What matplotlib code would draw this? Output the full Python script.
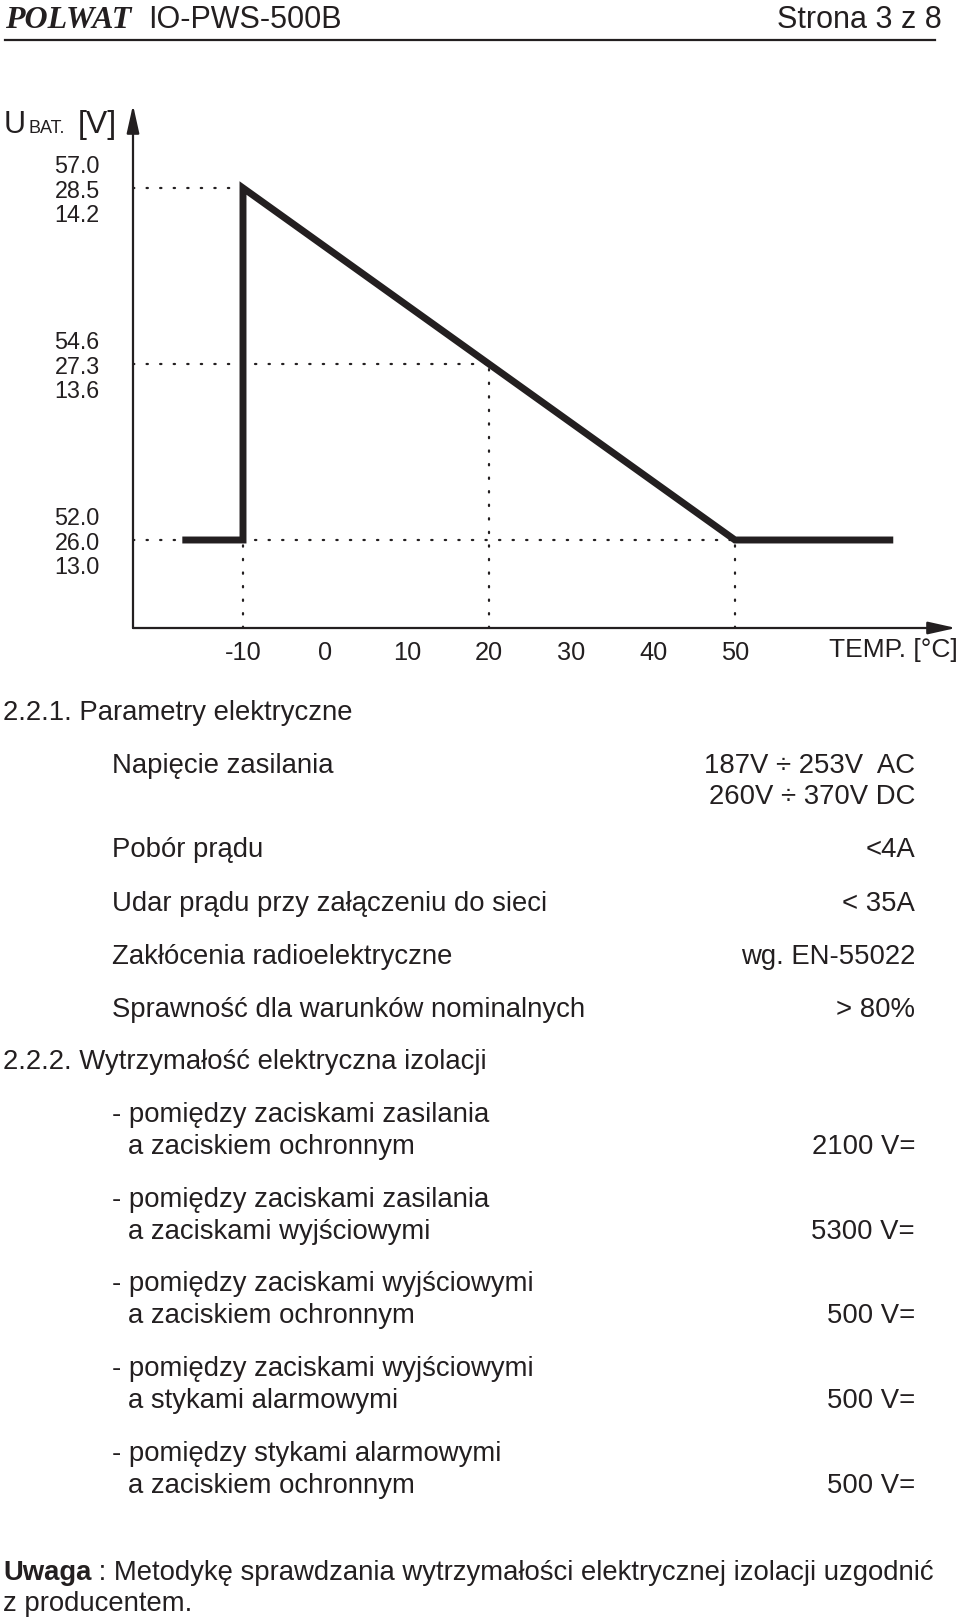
import numpy as np
import matplotlib
matplotlib.use("Agg")
import matplotlib.pyplot as plt

# ---------------- data ----------------
curve_temp = [-17.4, -10.0, -10.0, 50.0, 69.3]
curve_u = [26.0, 26.0, 28.5, 26.0, 26.0]
guide_temps = [-10, 20, 50]
x_ticks = [-10, 0, 10, 20, 30, 40, 50]
y_label_groups = [["52.0", "26.0", "13.0"], ["54.6", "27.3", "13.6"], ["57.0", "28.5", "14.2"]]
x_label = "TEMP. [°C]"

params_left = ["Napięcie zasilania", "Pobór prądu", "Udar prądu przy załączeniu do sieci",
               "Zakłócenia radioelektryczne", "Sprawność dla warunków nominalnych"]
params_right = [["187V ÷ 253V  AC", "260V ÷ 370V DC"], ["<4A"], ["< 35A"], ["wg. EN-55022"], ["> 80%"]]
iso_line1 = ["- pomiędzy zaciskami zasilania", "- pomiędzy zaciskami zasilania",
             "- pomiędzy zaciskami wyjściowymi", "- pomiędzy zaciskami wyjściowymi",
             "- pomiędzy stykami alarmowymi"]
iso_line2 = ["a zaciskiem ochronnym", "a zaciskami wyjściowymi", "a zaciskiem ochronnym",
             "a stykami alarmowymi", "a zaciskiem ochronnym"]
iso_values = ["2100 V=", "5300 V=", "500 V=", "500 V=", "500 V="]

INK = "#231f20"
plt.rcParams["font.family"] = ["Liberation Sans", "DejaVu Sans"]
plt.rcParams["text.color"] = INK

W, H = 960, 1620
fig = plt.figure(figsize=(W / 100, H / 100), dpi=100)


def fx(x):
    return x / W


def fy(y):
    return 1 - y / H


BODY = 19.8

# ---------------- header ----------------
fig.text(fx(5), fy(20), "POLWAT", family="Liberation Serif", fontweight="bold",
         fontstyle="italic", fontsize=23, ha="left", va="center")
fig.text(fx(148), fy(20), "IO-PWS-500B", fontsize=22, ha="left", va="center")
fig.text(fx(942), fy(20), "Strona 3 z 8", fontsize=22, ha="right", va="center")
fig.add_artist(plt.Line2D([fx(5), fx(935)], [fy(40), fy(40)], color=INK, lw=1.6))

# ---------------- chart ----------------
ax_l, ax_r, ax_t, ax_b = 133, 956, 105, 628
ax = fig.add_axes([fx(ax_l), fy(ax_b), fx(ax_r - ax_l), (ax_b - ax_t) / H])
# scale: -10 -> 243 px, 50 -> 735 px ; 26.0 -> 540 px, 28.5 -> 188 px
sx = (735 - 243) / 60.0
sy = (540 - 188) / 2.5
ax.set_xlim(-10 - (243 - ax_l) / sx, 50 + (ax_r - 735) / sx)
ax.set_ylim(26.0 - (ax_b - 540) / sy, 28.5 + (188 - ax_t) / sy)
for s in ax.spines.values():
    s.set_visible(False)
ax.patch.set_alpha(0)

x0, x1 = ax.get_xlim()
y0, y1 = ax.get_ylim()
dot = dict(color=INK, lw=1.6, linestyle=(0, (0.6, 5.5)), dash_capstyle="round")

mid_u = float(np.interp(guide_temps[1], curve_temp[2:], curve_u[2:]))
levels = [curve_u[0], mid_u, curve_u[2]]
# horizontal guides
ax.plot([x0, guide_temps[2]], [levels[0], levels[0]], **dot, zorder=1)
ax.plot([x0, guide_temps[1]], [levels[1], levels[1]], **dot, zorder=3)
ax.plot([x0, guide_temps[0]], [levels[2], levels[2]], **dot, zorder=3)
# vertical guides
for t, u in zip(guide_temps, [curve_u[0], mid_u, curve_u[0]]):
    ax.plot([t, t], [y0, u], **dot, zorder=1)

ax.plot(curve_temp, curve_u, color=INK, lw=5.0, solid_joinstyle="miter",
        solid_capstyle="butt", zorder=2)

# axes arrows
arr = dict(arrowstyle="-|>,head_length=1.7,head_width=0.38", color=INK, lw=1.6,
           shrinkA=0, shrinkB=0, mutation_scale=10)
ax.annotate("", xy=(0, 1), xytext=(0, 0), xycoords="axes fraction", arrowprops=arr)
ax.annotate("", xy=(1, 0), xytext=(0, 0), xycoords="axes fraction", arrowprops=arr)

ax.set_xticks(x_ticks)
ax.set_xticklabels([str(t) for t in x_ticks], fontsize=18.3, color=INK)
ax.tick_params(axis="x", length=0, pad=9)
ax.set_yticks(levels)
ax.set_yticklabels(["\n".join(g) for g in y_label_groups], fontsize=16.8,
                   color=INK, linespacing=1.08)
ax.tick_params(axis="y", length=0, pad=24)

fig.text(fx(958), fy(650), x_label, fontsize=19, ha="right", va="center")
fig.text(fx(4), fy(133), "U", fontsize=22, ha="left", va="baseline")
fig.text(fx(28), fy(133), "BAT.", fontsize=13, ha="left", va="baseline")
fig.text(fx(78), fy(133), "[V]", fontsize=23, ha="left", va="baseline")

# ---------------- text block ----------------
fig.text(fx(3), fy(713), "2.2.1. Parametry elektryczne", fontsize=BODY, ha="left", va="center")
left_y = [766, 850, 904, 957, 1010]
for y, lt, rts in zip(left_y, params_left, params_right):
    fig.text(fx(112), fy(y), lt, fontsize=BODY, ha="left", va="center")
    for k, rt in enumerate(rts):
        fig.text(fx(915), fy(y + 31 * k), rt, fontsize=BODY, ha="right", va="center")
fig.text(fx(3), fy(1062), "2.2.2. Wytrzymałość elektryczna izolacji", fontsize=BODY,
         ha="left", va="center")
iso_y = [1115, 1200, 1284, 1369, 1454]
for y, a, b, v in zip(iso_y, iso_line1, iso_line2, iso_values):
    fig.text(fx(112), fy(y), a, fontsize=BODY, ha="left", va="center")
    fig.text(fx(128), fy(y + 32), b, fontsize=BODY, ha="left", va="center")
    fig.text(fx(915), fy(y + 32), v, fontsize=BODY, ha="right", va="center")

t1 = fig.text(fx(3), fy(1580), "Uwaga", fontsize=BODY, fontweight="bold", ha="left", va="baseline")
plt.annotate(" : Metodykę sprawdzania wytrzymałości elektrycznej izolacji uzgodnić",
             xy=(1, 0), xycoords=t1, ha="left", va="bottom", fontsize=BODY,
             annotation_clip=False)
fig.text(fx(3), fy(1604), "z producentem.", fontsize=BODY, ha="left", va="center")

fig.savefig("out.png", dpi=100)
